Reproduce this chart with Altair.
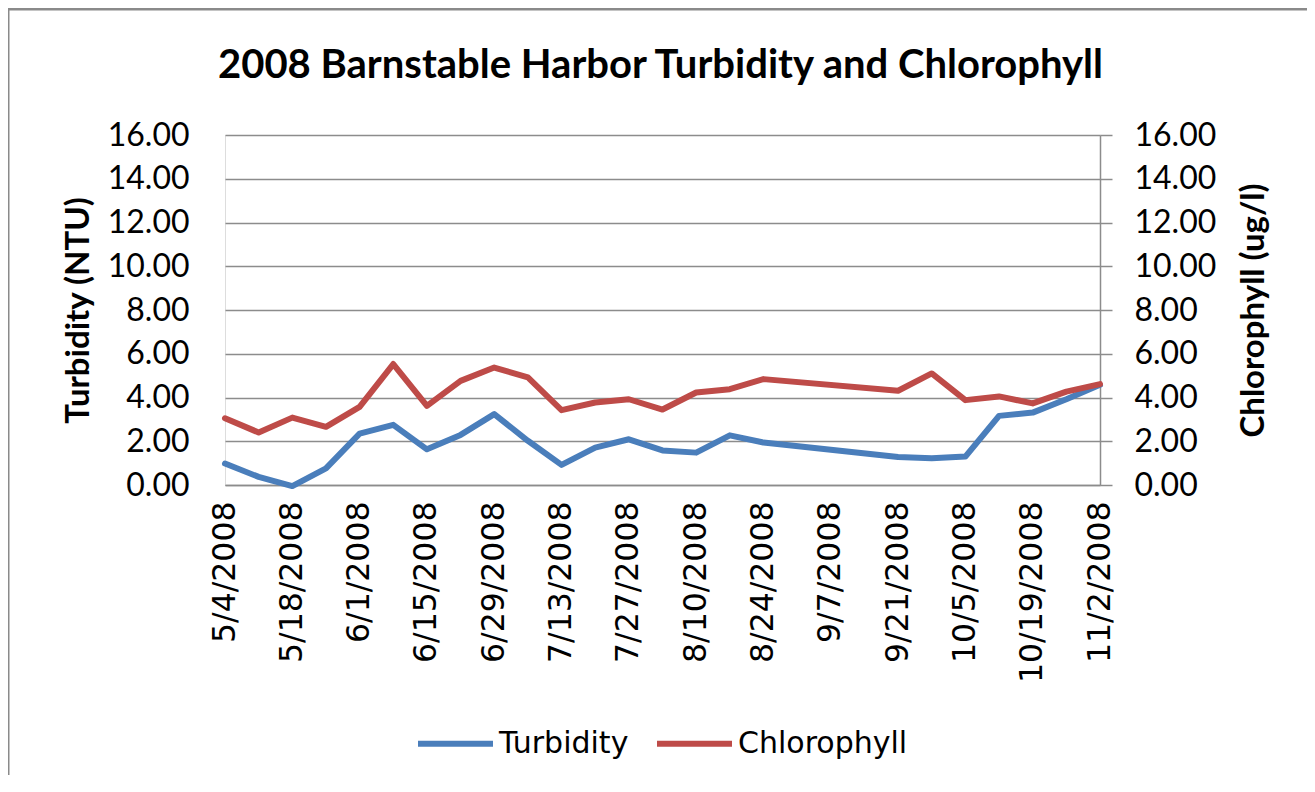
import altair as alt
import pandas as pd
from datetime import datetime

# ---- data ----
dates = ["5/4/2008", "5/11/2008", "5/18/2008", "5/25/2008", "6/1/2008", "6/8/2008",
         "6/15/2008", "6/22/2008", "6/29/2008", "7/6/2008", "7/13/2008", "7/20/2008",
         "7/27/2008", "8/3/2008", "8/10/2008", "8/17/2008", "8/24/2008", "9/21/2008",
         "9/28/2008", "10/5/2008", "10/12/2008", "10/19/2008", "10/26/2008", "11/2/2008"]
turbidity = [0.98, 0.37, -0.05, 0.76, 2.35, 2.75, 1.63, 2.29, 3.24, 2.02, 0.92, 1.71,
             2.09, 1.58, 1.48, 2.27, 1.94, 1.28, 1.22, 1.30, 3.16, 3.31, 3.92, 4.58]
chlorophyll = [3.05, 2.40, 3.08, 2.66, 3.57, 5.53, 3.62, 4.76, 5.37, 4.92, 3.42, 3.77,
               3.92, 3.45, 4.23, 4.38, 4.84, 4.31, 5.10, 3.88, 4.05, 3.73, 4.27, 4.61]
tick_dates = ["5/4/2008", "5/18/2008", "6/1/2008", "6/15/2008", "6/29/2008", "7/13/2008",
              "7/27/2008", "8/10/2008", "8/24/2008", "9/7/2008", "9/21/2008", "10/5/2008",
              "10/19/2008", "11/2/2008"]
y_ticks = [0, 2, 4, 6, 8, 10, 12, 14, 16]
series_names = ["Turbidity", "Chlorophyll"]
series_colors = ["#4A7EBB", "#BE4B48"]
title_text = "2008 Barnstable Harbor Turbidity and Chlorophyll"

W, H = 875, 350

rows = []
for d, t, c in zip(dates, turbidity, chlorophyll):
    rows.append({"date": d, "series": "Turbidity", "value": t})
    rows.append({"date": d, "series": "Chlorophyll", "value": c})
df = pd.DataFrame(rows)


def dt(s):
    p = datetime.strptime(s, "%m/%d/%Y")
    return alt.DateTime(year=p.year, month=p.month, date=p.day)


x_enc = alt.X(
    "date:T",
    scale=alt.Scale(domain=[dt(tick_dates[0]), dt(tick_dates[-1])]),
    axis=alt.Axis(
        values=[dt(s) for s in tick_dates],
        format="%-m/%-d/%Y",
        labelAngle=-90,
        labelAlign="right",
        labelBaseline="middle",
        labelFont="DejaVu Sans",
        labelFontSize=31.5,
        labelColor="#000000",
        labelPadding=16,
        labelOverlap=False,
        labelLimit=400,
        ticks=False,
        domain=True,
        domainColor="#8C8C8C",
        domainWidth=1.5,
        grid=False,
        title=None,
    ),
)

color_enc = alt.Color(
    "series:N",
    scale=alt.Scale(domain=series_names, range=series_colors),
    sort=series_names,
    legend=alt.Legend(
        title=None,
        orient="none",
        direction="horizontal",
        legendX=190,
        legendY=568,
        symbolType="stroke",
        symbolSize=5625,
        symbolStrokeWidth=6,
        labelFont="DejaVu Sans",
        labelFontSize=30,
        labelColor="#000000",
        labelOffset=3,
        columnPadding=16,
        labelLimit=400,
    ),
)


def y_axis(orient, title, title_x):
    common = dict(
        values=y_ticks,
        format=".2f",
        orient=orient,
        labelFont="Lato",
        labelFontSize=32,
        labelColor="#000000",
        title=title,
        titleFont="Lato",
        titleFontSize=33,
        titleFontWeight="bold",
        titleColor="#000000",
        titleAngle=270,
        titleAlign="center",
        titleBaseline="middle",
        titleX=title_x,
        titleY=H / 2,
    )
    if orient == "left":
        return alt.Axis(grid=True, gridColor="#8C8C8C", gridWidth=1.5, domain=False,
                        ticks=False, labelPadding=36, **common)
    return alt.Axis(grid=False, domain=True, domainColor="#8C8C8C", domainWidth=1.5,
                    ticks=True, tickSize=12, tickColor="#8C8C8C", tickWidth=1.5,
                    labelPadding=22, **common)


def series_layer(name, orient, title, title_x):
    return alt.Chart(df).transform_filter(alt.datum.series == name).mark_line(
        strokeWidth=6, strokeJoin="round", strokeCap="round"
    ).encode(
        x=x_enc,
        y=alt.Y("value:Q", scale=alt.Scale(domain=[0, 16], nice=False, zero=False),
                axis=y_axis(orient, title, title_x)),
        color=color_enc,
    )


turb = series_layer("Turbidity", "left", "Turbidity (NTU)", -147)
chl = series_layer("Chlorophyll", "right", "Chlorophyll (ug/l)", 153)

frame = alt.Chart(pd.DataFrame({"k": [0]})).mark_rect(
    fill="#FFFFFF", fillOpacity=0, stroke="#8A8A8A", strokeWidth=3
).encode(
    x=alt.value(-217), x2=alt.value(1120), y=alt.value(-126), y2=alt.value(700)
)

title = alt.Chart(pd.DataFrame({"t": [title_text]})).mark_text(
    font="Lato", fontSize=40, fontWeight="bold", color="#000000",
    align="center", baseline="alphabetic"
).encode(text="t:N", x=alt.value(W / 2 - 2), y=alt.value(-57))

chart = alt.layer(frame, title, turb, chl).resolve_scale(y="independent").properties(
    width=W,
    height=H,
    autosize=alt.AutoSizeParams(type="none"),
    padding={"left": 217, "top": 127, "right": 207, "bottom": 290},
).configure_view(stroke=None).configure(background="#FFFFFF")

chart.save("out.html", embed_options={"renderer": "svg", "actions": False})
